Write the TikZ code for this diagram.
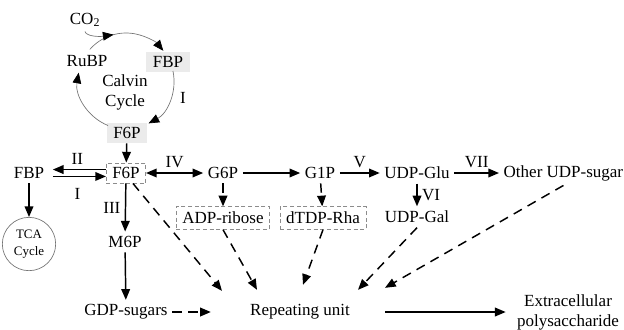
\documentclass[tikz,border=0pt]{standalone}
\usepackage{fontspec}
\setmainfont{Liberation Serif}
\usetikzlibrary{calc}
\usetikzlibrary{arrows.meta}

\begin{document}
\begin{tikzpicture}[x=0.75pt,y=-0.75pt,font=\fontsize{12.75}{15}\selectfont,
  >={Triangle[length=8pt,width=6.5pt]},
  arr/.style={line width=1.1pt,->},
  dasharr/.style={line width=1.1pt,->,dash pattern=on 7pt off 5pt},
  hl/.style={fill=black!8,inner xsep=5pt,minimum height=13.5pt},
  dbox/.style={draw=black!45,line width=0.5pt,densely dashed,inner xsep=4.5pt,minimum height=17pt},
  cyc/.style={draw=black!55,line width=0.5pt,-{Triangle[length=8pt,width=6.5pt,black]}}]
 \useasboundingbox (0,0) rectangle (624,329);
 % Calvin cycle
 \coordinate (cc) at (126,81);
 \node (co2) at (85,20) {CO\textsubscript{2}};
 \node (rubp) at (87,61) {RuBP};
 \node[align=center] (calvin) at (125,92) {Calvin\\Cycle};
 \node[hl] (fbpcalvin) at (168,62) {FBP};
 \node[hl] (f6pcalvin) at (127,133) {F6P};
 \draw[cyc] ($(cc)+(139:36pt)$) arc[start angle=139,end angle=39,radius=36pt];
 \draw[cyc] ($(cc)+(12:36pt)$) arc[start angle=12,end angle=-62,radius=36pt];
 \draw[cyc] ($(cc)+(-112:36pt)$) arc[start angle=-112,end angle=-190,radius=36pt];
 \draw[cyc] (co2.south) .. controls (86,36) and (98,37) .. ($(cc)+(105:36pt)$);
 \node at (183,98) {I};
 % main row
 \node (fbp) at (29,173) {FBP};
 \node[dbox,minimum height=15pt] (f6p) at (126,173) {F6P};
 \node (g6p) at (223,173) {G6P};
 \node (g1p) at (320,173) {G1P};
 \node (udpglu) at (417,173) {UDP-Glu};
 \node[anchor=west] (other) at (499,173) {Other UDP-sugar};
 \node[dbox] (adp) at (223,218) {ADP-ribose};
 \node[dbox] (dtdp) at (323,218) {dTDP-Rha};
 \node (udpgal) at (417,217) {UDP-Gal};
 \node[circle,draw=black!55,line width=0.5pt,minimum size=40pt,inner sep=0pt,align=center,font=\fontsize{9.7}{12.5}\selectfont] (tca) at (29,244) {TCA\\Cycle};
 \node (m6p) at (125,242) {M6P};
 \node (gdp) at (126,312) {GDP-sugars};
 \node (ru) at (300,312) {Repeating unit};
 \node[align=center] (eps) at (568,312) {Extracellular\\polysaccharide};
 % solid arrows
 \draw[arr,shorten >=3pt] ([yshift=2.6pt]f6p.west) -- ([yshift=2.6pt]fbp.east) node[midway,above] {II};
 \draw[arr,shorten <=3pt] ([yshift=-2.6pt]fbp.east) -- ([yshift=-2.6pt]f6p.west) node[midway,below=5pt] {I};
 \draw[arr] (f6pcalvin) -- (f6p);
 \draw[line width=1.1pt,<->] (f6p) -- (g6p) node[midway,above] {IV};
 \draw[arr] (g6p) -- (g1p);
 \draw[arr] (g1p) -- (udpglu) node[midway,above] {V};
 \draw[arr] (udpglu) -- (other) node[midway,above] {VII};
 \draw[arr] (udpglu) -- (udpgal) node[midway,right] {VI};
 \draw[arr] (fbp) -- (tca);
 \draw[arr] (f6p) -- (m6p) node[midway,left] {III};
 \draw[arr] (m6p) -- (gdp);
 \draw[arr,shorten <=23pt,shorten >=5pt] (ru) -- (eps);
 % dashed arrows
 \draw[dasharr] (g6p) -- (adp);
 \draw[dasharr] (g1p) -- (dtdp);
 \draw[dasharr] ($(f6p.south)+(7,0)$) -- ($(ru.north)+(-78,-9)$);
 \draw[dasharr] (adp.south) -- ($(ru.north)+(-43,-10)$);
 \draw[dasharr] (dtdp.south) -- ($(ru.north)+(3,-15)$);
 \draw[dasharr] (udpgal.south) -- ($(ru.north)+(58,-10)$);
 \draw[dasharr] (other.south) -- ($(ru.north)+(85,-12)$);
 \draw[dasharr,shorten >=26pt] (gdp) -- (ru);
\end{tikzpicture}
\end{document}
